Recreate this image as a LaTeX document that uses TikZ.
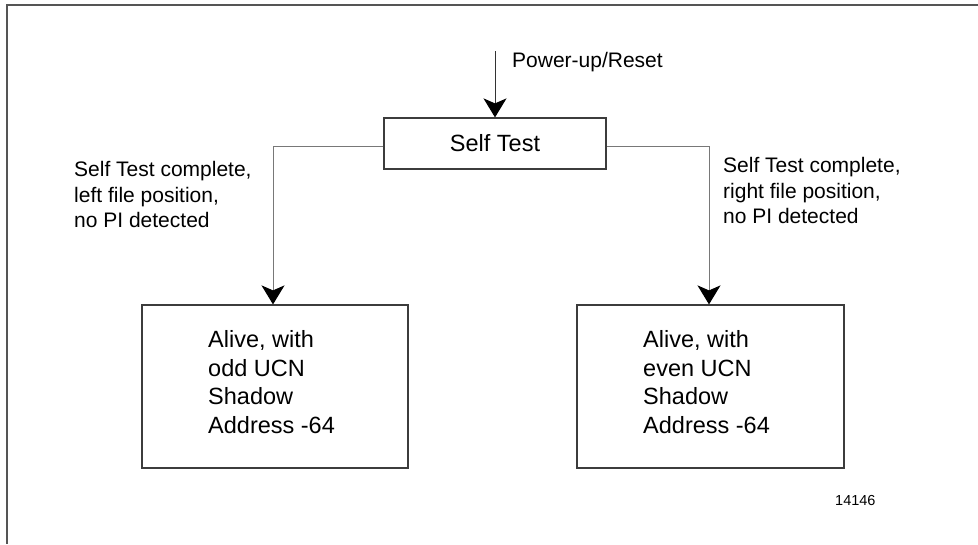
\documentclass[tikz,border=0pt]{standalone}
\usepackage{fontspec}
\setmainfont{Liberation Sans}
\usetikzlibrary{arrows.meta}
\definecolor{framecol}{RGB}{85,85,85}
\definecolor{conncol}{RGB}{120,120,120}
\definecolor{boxcol}{RGB}{60,60,60}
\tikzset{
  statebox/.style={draw=boxcol, line width=1.2pt, fill=white, inner sep=0pt},
  conn/.style={draw=conncol, line width=1pt, -{Stealth[length=19pt, width=23pt, inset=5pt, black]}},
  boxtext/.style={anchor=north west, inner sep=0pt, align=left, font=\fontsize{23.5}{28.5}\selectfont},
  lbl/.style={anchor=north west, inner sep=0pt, align=left, font=\fontsize{21}{25.5}\selectfont},
}
\begin{document}
\begin{tikzpicture}[x=1pt, y=-1pt]
\useasboundingbox (0,0) rectangle (978,544);
% frame (top and left only)
\draw[framecol, line width=1.3pt] (978,5) -- (7,5) -- (7,544);

% nodes
\node[statebox, minimum width=222pt, minimum height=51pt, font=\fontsize{23.5}{28.5}\selectfont] (st) at (495,143.5) {Self Test};
\node[statebox, minimum width=266pt, minimum height=163pt] (lbox) at (275,386.5) {};
\node[statebox, minimum width=267pt, minimum height=163pt] (rbox) at (710.5,386.5) {};

\node[boxtext] (ltext) at (208,330.5) {Alive, with\\odd UCN\\Shadow\\Address -64};
\node[boxtext] (rtext) at (643,330.5) {Alive, with\\even UCN\\Shadow\\Address -64};

\coordinate (pwr) at (495,51);
\node[anchor=base west, inner sep=0pt, font=\fontsize{21}{25.5}\selectfont] (pwrlbl) at (512,67) {Power-up/Reset};

\node[lbl] (llbl) at (74,161.5) {Self Test complete,\\left file position,\\no PI detected};
\node[lbl] (rlbl) at (723,157.5) {Self Test complete,\\right file position,\\no PI detected};

\node[anchor=base west, inner sep=0pt, font=\fontsize{14.5}{17}\selectfont] (num) at (835,505) {14146};

% connectors
\draw[conn, draw=black!80] (pwr) -- (st.north);
\draw[conn] ([yshift=-2.5pt]st.west) -| ([xshift=-2pt]lbox.north);
\draw[conn] ([yshift=-2.5pt]st.east) -| ([xshift=-1.5pt]rbox.north);
\end{tikzpicture}
\end{document}
